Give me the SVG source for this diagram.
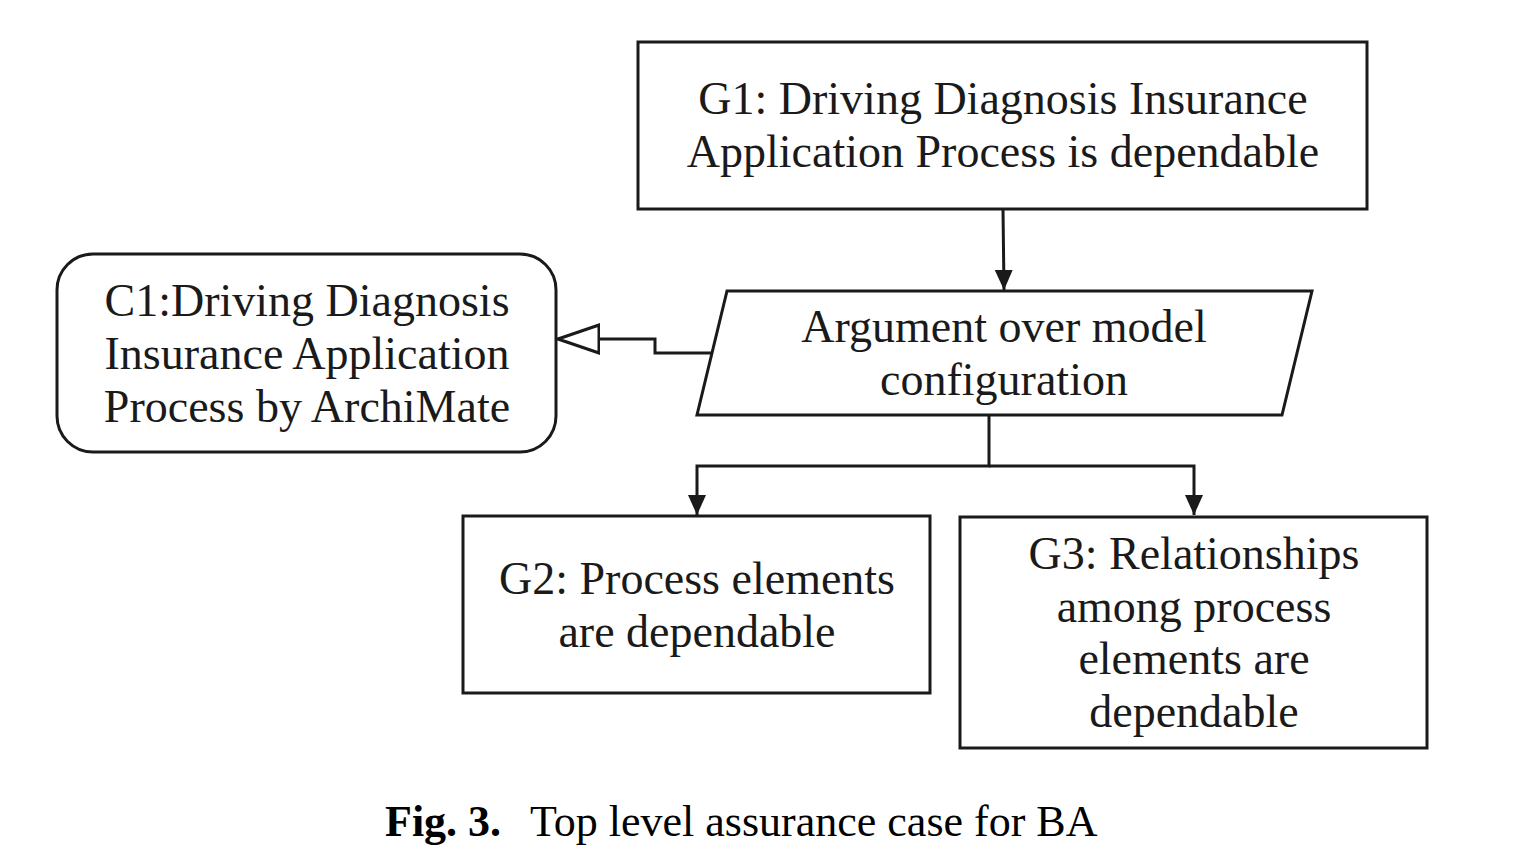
<svg xmlns="http://www.w3.org/2000/svg" width="1519" height="859" viewBox="0 0 1519 859">
<defs>
<style>
.box{fill:#fff;stroke:#1a1a1a;stroke-width:3}
.t{font-family:"Liberation Serif","Times New Roman",serif;font-size:46px;fill:#1a1a1a;text-anchor:middle}
.conn{fill:none;stroke:#1a1a1a;stroke-width:3}
.cap{font-family:"Liberation Serif","Times New Roman",serif;font-size:44px;fill:#000}
</style>
<marker id="arrow" viewBox="0 0 20 20" refX="20" refY="10" markerWidth="20" markerHeight="20" markerUnits="userSpaceOnUse" orient="auto">
<path d="M0,1 L20,10 L0,19 Z" fill="#1a1a1a"/>
</marker>
<marker id="hollow" viewBox="0 0 44 32" refX="42" refY="16" markerWidth="44" markerHeight="32" markerUnits="userSpaceOnUse" orient="auto">
<path d="M1,2 L42,16 L1,30 Z" fill="#fff" stroke="#1a1a1a" stroke-width="3"/>
</marker>
</defs>
<rect width="1519" height="859" fill="#fff"/>
<g id="connectors">
<line class="conn" x1="1003" y1="209" x2="1004" y2="290" marker-end="url(#arrow)"/>
<polyline class="conn" points="712,353 655,353 655,339 558,339" marker-end="url(#hollow)"/>
<polyline class="conn" points="989,415 989,466 697,466 697,515" marker-end="url(#arrow)"/>
<polyline class="conn" points="989,466 1194,466 1194,515" marker-end="url(#arrow)"/>
</g>
<g id="G1">
<rect class="box" x="638" y="42" width="729" height="167"/>
<text class="t" x="1003" y="114">G1: Driving Diagnosis Insurance</text>
<text class="t" x="1003" y="167">Application Process is dependable</text>
</g>
<g id="S1">
<polygon class="box" points="727,291 1312,291 1282,415 697,415"/>
<text class="t" x="1004" y="342">Argument over model</text>
<text class="t" x="1004" y="395">configuration</text>
</g>
<g id="C1">
<rect class="box" x="57" y="254" width="499" height="198" rx="36" ry="36"/>
<text class="t" x="307" y="316">C1:Driving Diagnosis</text>
<text class="t" x="307" y="369">Insurance Application</text>
<text class="t" x="307" y="422">Process by ArchiMate</text>
</g>
<g id="G2">
<rect class="box" x="463" y="516" width="467" height="177"/>
<text class="t" x="697" y="594">G2: Process elements</text>
<text class="t" x="697" y="647">are dependable</text>
</g>
<g id="G3">
<rect class="box" x="960" y="517" width="467" height="231"/>
<text class="t" x="1194" y="569">G3: Relationships</text>
<text class="t" x="1194" y="622">among process</text>
<text class="t" x="1194" y="674">elements are</text>
<text class="t" x="1194" y="727">dependable</text>
</g>
<g id="caption">
<text class="cap" x="385" y="836"><tspan font-weight="bold">Fig. 3.</tspan><tspan x="530">Top level assurance case for BA</tspan></text>
</g>
</svg>
